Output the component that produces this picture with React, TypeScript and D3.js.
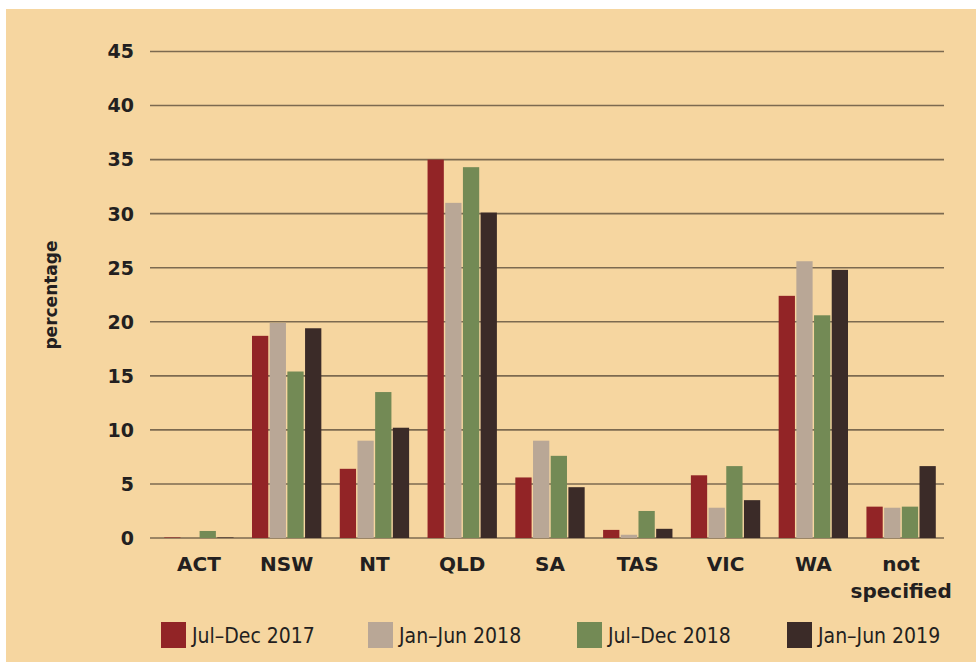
import { useEffect, useRef } from "react";
import * as d3 from "d3";

const categories = ["ACT", "NSW", "NT", "QLD", "SA", "TAS", "VIC", "WA", "not specified"];
const seriesNames = ["Jul–Dec 2017", "Jan–Jun 2018", "Jul–Dec 2018", "Jan–Jun 2019"];
const julDec2017 = [0.05, 18.7, 6.4, 35.0, 5.6, 0.75, 5.8, 22.4, 2.9];
const janJun2018 = [0, 19.9, 9.0, 31.0, 9.0, 0.3, 2.8, 25.6, 2.8];
const julDec2018 = [0.65, 15.4, 13.5, 34.3, 7.6, 2.5, 6.65, 20.6, 2.9];
const janJun2019 = [0.05, 19.4, 10.2, 30.1, 4.7, 0.85, 3.5, 24.8, 6.65];
const yTicks = [0, 5, 10, 15, 20, 25, 30, 35, 40, 45];
const colors = ["#922426", "#b9a796", "#738a55", "#3b2b28"];

const seriesValues = [julDec2017, janJun2018, julDec2018, janJun2019];

export default function App() {
  const ref = useRef<SVGSVGElement>(null);

  useEffect(() => {
    const svg = d3.select(ref.current);
    svg.selectAll("*").remove();

    const font = "'DejaVu Sans', 'Open Sans', sans-serif";

    svg.append("rect")
      .attr("x", 6).attr("y", 9)
      .attr("width", 970).attr("height", 653)
      .attr("fill", "#f6d6a0");

    const x0 = d3.scaleBand<string>()
      .domain(categories)
      .range([155, 945])
      .paddingInner(0.21)
      .paddingOuter(0.105);

    const x1 = d3.scaleBand<number>()
      .domain(d3.range(seriesNames.length))
      .range([0, x0.bandwidth()])
      .paddingInner(0.08);

    const y = d3.scaleLinear().domain([0, 45]).range([538, 51.5]);

    // gridlines
    svg.append("g").selectAll("line")
      .data(yTicks)
      .join("line")
      .attr("x1", 150).attr("x2", 944)
      .attr("y1", d => y(d)).attr("y2", d => y(d))
      .attr("stroke", "#7c6a50")
      .attr("stroke-width", 1.6);

    // y tick labels
    svg.append("g").selectAll("text")
      .data(yTicks)
      .join("text")
      .attr("x", 134)
      .attr("y", d => y(d))
      .attr("dy", "0.36em")
      .attr("text-anchor", "end")
      .attr("font-family", font)
      .attr("font-weight", 700)
      .attr("font-size", 19)
      .attr("fill", "#231f20")
      .text(d => d);

    // bars
    const groups = svg.append("g").selectAll("g")
      .data(categories)
      .join("g")
      .attr("transform", d => `translate(${x0(d)},0)`);

    groups.selectAll("rect")
      .data((_, i) => seriesValues.map((s, k) => ({ k, v: s[i] })))
      .join("rect")
      .attr("x", d => x1(d.k)!)
      .attr("width", x1.bandwidth())
      .attr("y", d => y(d.v))
      .attr("height", d => y(0) - y(d.v))
      .attr("fill", d => colors[d.k]);

    // category labels
    const catLabels = svg.append("g").selectAll("text")
      .data(categories)
      .join("text")
      .attr("y", 571)
      .attr("text-anchor", "middle")
      .attr("font-family", font)
      .attr("font-weight", 700)
      .attr("font-size", 20)
      .attr("fill", "#231f20");
    catLabels.each(function (d) {
      const t = d3.select(this);
      const words = d === "not specified" ? ["not", "specified"] : [d];
      words.forEach((w, i) => {
        t.append("tspan")
          .attr("x", x0(d)! + x0.bandwidth() / 2)
          .attr("dy", i === 0 ? 0 : 27)
          .text(w);
      });
    });

    // y axis title
    svg.append("text")
      .attr("transform", "translate(57,295) rotate(-90)")
      .attr("text-anchor", "middle")
      .attr("font-family", font)
      .attr("font-weight", 700)
      .attr("font-size", 17)
      .attr("fill", "#231f20")
      .text("percentage");

    // legend
    const legendX = [161, 368, 577, 787];
    const legend = svg.append("g").selectAll("g")
      .data(seriesNames)
      .join("g")
      .attr("transform", (_, i) => `translate(${legendX[i]},622)`);
    legend.append("rect")
      .attr("width", 25).attr("height", 26)
      .attr("fill", (_, i) => colors[i]);
    legend.append("text")
      .attr("x", 31)
      .attr("y", 13)
      .attr("dy", "0.36em")
      .attr("font-family", "'DejaVu Sans Condensed', 'Liberation Sans Narrow', 'DejaVu Sans', sans-serif")
      .attr("font-stretch", "condensed")
      .attr("font-size", 21)
      .attr("fill", "#231f20")
      .text(d => d);
  }, []);

  return (
    <svg
      ref={ref}
      width={976}
      height={662}
      style={{ position: "absolute", left: 0, top: 0 }}
    />
  );
}
